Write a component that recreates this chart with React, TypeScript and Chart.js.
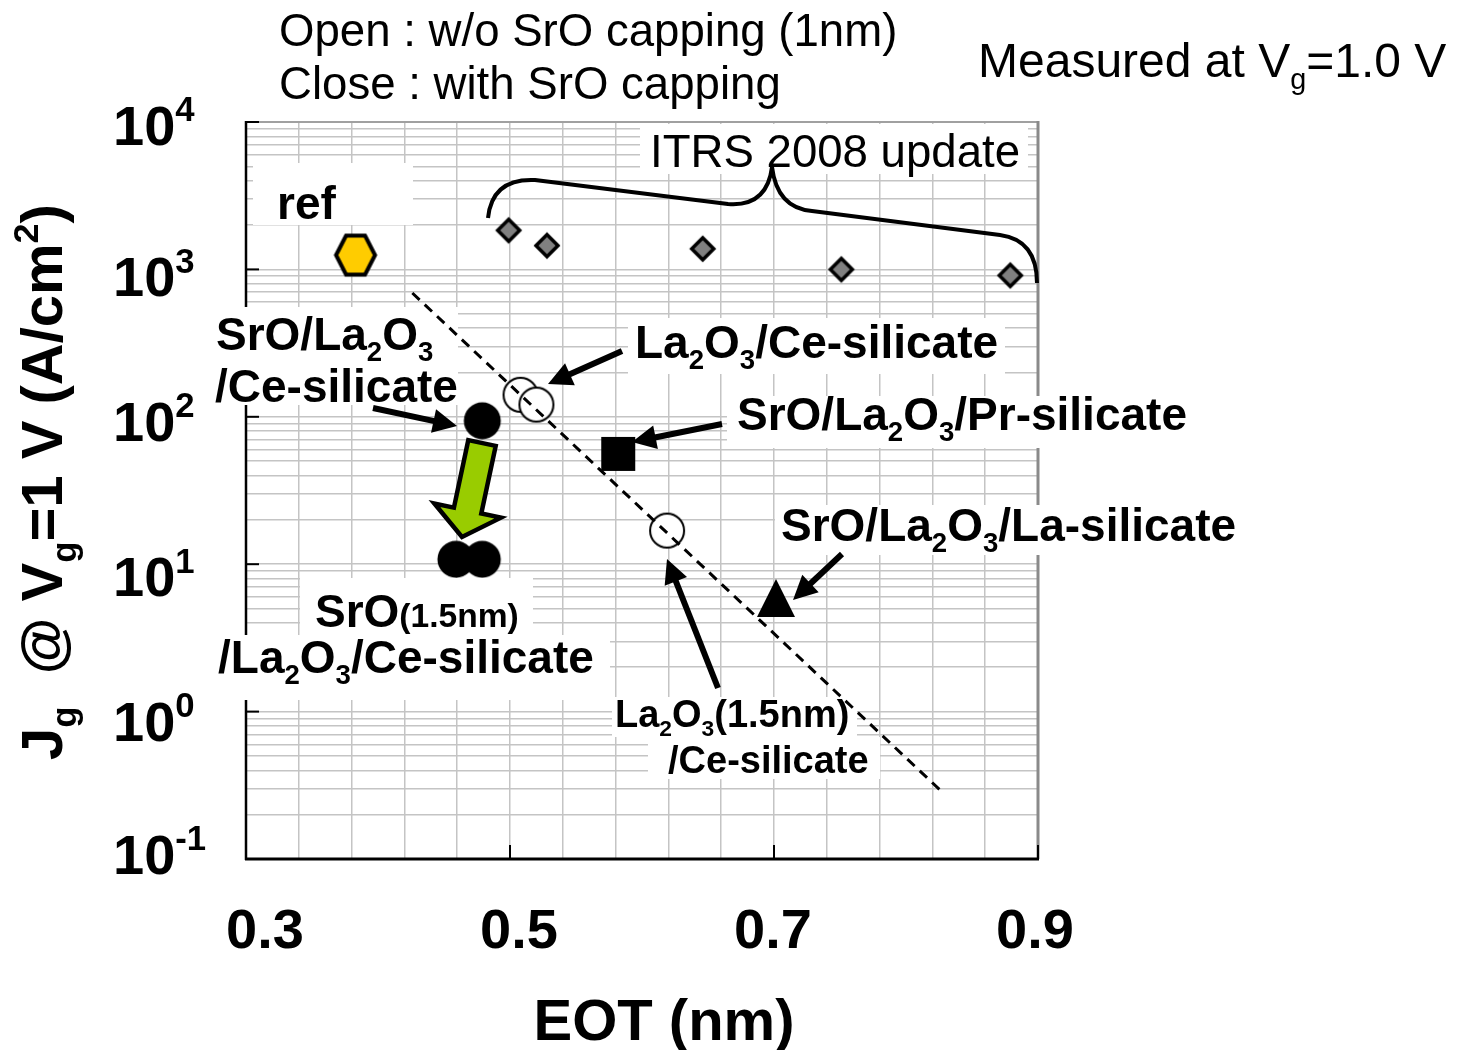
import React, { useEffect, useRef } from 'react';
import { Chart, registerables } from 'chart.js';

Chart.register(...registerables);

const FONT = '"Liberation Sans", Arial, Helvetica, sans-serif';

// Gate leakage current density Jg at Vg = 1 V (A/cm2) versus EOT (nm)
const REF_EOT = [0.383];
const REF_JG = [1250];
const ITRS_EOT = [0.499, 0.528, 0.646, 0.751, 0.879];
const ITRS_JG = [1840, 1450, 1380, 1000, 910];
// open symbols: La2O3/Ce-silicate without SrO capping
const LA2O3_CE_EOT = [0.508, 0.52, 0.619];
const LA2O3_CE_JG = [141, 121, 16.9];
// closed symbols: with SrO capping
const SRO_CE_EOT = [0.479];
const SRO_CE_JG = [94];
const SRO15_CE_EOT = [0.459, 0.479];
const SRO15_CE_JG = [10.8, 10.8];
const SRO_PR_EOT = [0.582];
const SRO_PR_JG = [56];
const SRO_LA_EOT = [0.7015];
const SRO_LA_JG = [5.9];
// guide line through the La2O3/Ce-silicate points
const TREND_EOT = [0.426, 0.8265];
const TREND_JG = [692, 0.29];

const X_TICK_VALUES = [0.3, 0.5, 0.7, 0.9];
const X_TICK_LABELS = ['0.3', '0.5', '0.7', '0.9'];
const Y_TICK_EXPONENTS = [4, 3, 2, 1, 0, -1];

// small hand nudges of the tick labels (px)
const X_LABEL_SHIFT = [19, 9, -1, -3];
const Y_LABEL_SHIFT = [3, 7, 4, 12, 9, -5];

type Label = { text: string; x: number; y: number; size: number; bold: boolean };
const LABELS: Label[] = [
  { text: 'Open : w/o SrO capping (1nm)', x: 279, y: 46, size: 45.6, bold: false },
  { text: 'Close : with SrO capping', x: 279, y: 99, size: 45.6, bold: false },
  { text: 'Measured at V_{g}=1.0 V', x: 978, y: 77, size: 48, bold: false },
  { text: 'ITRS 2008 update', x: 650, y: 167, size: 45.6, bold: false },
  { text: 'ref', x: 277, y: 219, size: 46, bold: true },
  { text: 'SrO/La_{2}O_{3}', x: 216, y: 350, size: 46, bold: true },
  { text: '/Ce-silicate', x: 215, y: 402, size: 46, bold: true },
  { text: 'La_{2}O_{3}/Ce-silicate', x: 635, y: 358, size: 46, bold: true },
  { text: 'SrO/La_{2}O_{3}/Pr-silicate', x: 737, y: 430, size: 46, bold: true },
  { text: 'SrO/La_{2}O_{3}/La-silicate', x: 781, y: 541, size: 46, bold: true },
  { text: 'SrO~{(1.5nm)}', x: 315, y: 627, size: 46, bold: true },
  { text: '/La_{2}O_{3}/Ce-silicate', x: 218, y: 673, size: 46, bold: true },
  { text: 'La_{2}O_{3}(1.5nm)', x: 615, y: 727, size: 38, bold: true },
  { text: '/Ce-silicate', x: 668, y: 773, size: 38, bold: true },
];

// white text-box backgrounds [x, y, w, h]
const BOXES_UNDER: number[][] = [
  [253, 163, 160, 62],
  [208, 307, 250, 98],
  [640, 124, 388, 50],
  [628, 318, 377, 56],
  [727, 396, 465, 52],
  [775, 505, 465, 50],
  [612, 697, 245, 40],
  [648, 737, 232, 42],
];
const BOXES_OVER: number[][] = [
  [300, 578, 233, 57],
  [210, 635, 400, 65],
];

// callout arrows [x1, y1, x2 (tip), y2 (tip)]
const ARROWS: number[][] = [
  [622, 351, 548, 384],
  [373, 408, 457, 426],
  [722, 424, 632, 442],
  [842, 554, 793, 600],
  [718, 688, 667, 559],
];

type Seg = { t: string; k: 'n' | 'sub' | 'sup' | 'small' };
const SEG_SCALE = { n: 1, sub: 0.6, sup: 0.62, small: 0.73 };
const SEG_SHIFT = { n: 0, sub: 0.24, sup: -0.42, small: 0 };

function parseRich(s: string): Seg[] {
  const out: Seg[] = [];
  const re = /([_^~])\{([^}]*)\}/g;
  let last = 0;
  let m: RegExpExecArray | null;
  while ((m = re.exec(s))) {
    if (m.index > last) out.push({ t: s.slice(last, m.index), k: 'n' });
    out.push({ t: m[2], k: m[1] === '_' ? 'sub' : m[1] === '^' ? 'sup' : 'small' });
    last = re.lastIndex;
  }
  if (last < s.length) out.push({ t: s.slice(last), k: 'n' });
  return out;
}

function fontOf(size: number, bold: boolean) {
  return `${bold ? 'bold ' : ''}${size}px ${FONT}`;
}

function drawRich(
  ctx: CanvasRenderingContext2D,
  s: string,
  x: number,
  y: number,
  size: number,
  bold: boolean,
  align: 'left' | 'center' = 'left'
) {
  const segs = parseRich(s);
  let total = 0;
  const widths = segs.map((g) => {
    ctx.font = fontOf(size * SEG_SCALE[g.k], bold);
    const w = ctx.measureText(g.t).width;
    total += w;
    return w;
  });
  let cx = align === 'center' ? x - total / 2 : x;
  ctx.textAlign = 'left';
  ctx.textBaseline = 'alphabetic';
  segs.forEach((g, i) => {
    ctx.font = fontOf(size * SEG_SCALE[g.k], bold);
    ctx.fillText(g.t, cx, y + SEG_SHIFT[g.k] * size);
    cx += widths[i];
  });
}

function arrow(ctx: CanvasRenderingContext2D, x1: number, y1: number, x2: number, y2: number) {
  const headLen = 24;
  const headHalf = 12;
  const a = Math.atan2(y2 - y1, x2 - x1);
  const c = Math.cos(a);
  const s = Math.sin(a);
  const bx = x2 - headLen * c;
  const by = y2 - headLen * s;
  ctx.strokeStyle = '#000';
  ctx.fillStyle = '#000';
  ctx.lineWidth = 6;
  ctx.lineCap = 'butt';
  ctx.beginPath();
  ctx.moveTo(x1, y1);
  ctx.lineTo(bx + 2 * c, by + 2 * s);
  ctx.stroke();
  ctx.beginPath();
  ctx.moveTo(x2, y2);
  ctx.lineTo(bx - headHalf * s, by + headHalf * c);
  ctx.lineTo(bx + headHalf * s, by - headHalf * c);
  ctx.closePath();
  ctx.fill();
}

function blockArrow(ctx: CanvasRenderingContext2D, tx: number, ty: number, px: number, py: number) {
  const len = Math.hypot(px - tx, py - ty);
  const dx = (px - tx) / len;
  const dy = (py - ty) / len;
  const nx = -dy;
  const ny = dx;
  const bodyHalf = 14;
  const headHalf = 34;
  const headLen = 27;
  const bx = px - dx * headLen;
  const by = py - dy * headLen;
  ctx.beginPath();
  ctx.moveTo(tx + nx * bodyHalf, ty + ny * bodyHalf);
  ctx.lineTo(bx + nx * bodyHalf, by + ny * bodyHalf);
  ctx.lineTo(bx + nx * headHalf, by + ny * headHalf);
  ctx.lineTo(px, py);
  ctx.lineTo(bx - nx * headHalf, by - ny * headHalf);
  ctx.lineTo(bx - nx * bodyHalf, by - ny * bodyHalf);
  ctx.lineTo(tx - nx * bodyHalf, ty - ny * bodyHalf);
  ctx.closePath();
  ctx.fillStyle = '#99cc00';
  ctx.fill();
  ctx.lineWidth = 4.5;
  ctx.lineJoin = 'miter';
  ctx.strokeStyle = '#000';
  ctx.stroke();
}

function makeMarker(w: number, h: number, draw: (g: CanvasRenderingContext2D, cx: number, cy: number) => void) {
  const c = document.createElement('canvas');
  c.width = w;
  c.height = h;
  const g = c.getContext('2d') as CanvasRenderingContext2D;
  draw(g, w / 2, h / 2);
  return c;
}

const pts = (xs: number[], ys: number[]) => xs.map((x, i) => ({ x, y: ys[i] }));

const decor = {
  id: 'decor',
  beforeDatasetsDraw(chart: any) {
    const { ctx, chartArea: a } = chart;
    const xs = chart.scales.x;
    const ys = chart.scales.y;
    ctx.save();
    // frame
    ctx.lineCap = 'butt';
    ctx.strokeStyle = '#a0a0a0';
    ctx.lineWidth = 2;
    ctx.beginPath();
    ctx.moveTo(a.left, a.top);
    ctx.lineTo(a.right, a.top);
    ctx.stroke();
    ctx.strokeStyle = '#8a8a8a';
    ctx.lineWidth = 3;
    ctx.beginPath();
    ctx.moveTo(a.right, a.top - 1);
    ctx.lineTo(a.right, a.bottom);
    ctx.stroke();
    ctx.strokeStyle = '#000';
    ctx.lineWidth = 2.5;
    ctx.beginPath();
    ctx.moveTo(a.left, a.top - 1);
    ctx.lineTo(a.left, a.bottom + 1);
    ctx.stroke();
    ctx.lineWidth = 3;
    ctx.beginPath();
    ctx.moveTo(a.left - 1, a.bottom);
    ctx.lineTo(a.right + 1, a.bottom);
    ctx.stroke();
    // inner tick marks
    ctx.lineWidth = 2;
    Y_TICK_EXPONENTS.forEach((e) => {
      const y = ys.getPixelForValue(Math.pow(10, e));
      ctx.beginPath();
      ctx.moveTo(a.left, y);
      ctx.lineTo(a.left + 13, y);
      ctx.stroke();
    });
    X_TICK_VALUES.forEach((v) => {
      const x = xs.getPixelForValue(v);
      ctx.beginPath();
      ctx.moveTo(x, a.bottom);
      ctx.lineTo(x, a.bottom - 14);
      ctx.stroke();
    });
    ctx.fillStyle = '#fff';
    BOXES_UNDER.forEach(([x, y, w, h]) => ctx.fillRect(x, y, w, h));
    ctx.restore();
  },
  afterDatasetsDraw(chart: any) {
    const { ctx, chartArea: a } = chart;
    const xs = chart.scales.x;
    const ys = chart.scales.y;
    ctx.save();
    ctx.fillStyle = '#fff';
    BOXES_OVER.forEach(([x, y, w, h]) => ctx.fillRect(x, y, w, h));

    ctx.fillStyle = '#000';
    LABELS.forEach((l) => drawRich(ctx, l.text, l.x, l.y, l.size, l.bold));

    // curly brace over the ITRS targets
    ctx.strokeStyle = '#000';
    ctx.lineWidth = 4;
    ctx.lineJoin = 'round';
    ctx.lineCap = 'butt';
    ctx.beginPath();
    ctx.moveTo(488, 218);
    ctx.quadraticCurveTo(492, 178, 535, 180);
    ctx.lineTo(728, 204);
    ctx.quadraticCurveTo(767, 207, 772, 167);
    ctx.quadraticCurveTo(777, 208, 812, 211);
    ctx.lineTo(1000, 235);
    ctx.quadraticCurveTo(1037, 240, 1037, 283);
    ctx.stroke();

    ARROWS.forEach(([x1, y1, x2, y2]) => arrow(ctx, x1, y1, x2, y2));
    blockArrow(ctx, 482, 443, 462, 537);

    // tick labels
    ctx.fillStyle = '#000';
    X_TICK_VALUES.forEach((v, i) => {
      drawRich(ctx, X_TICK_LABELS[i], xs.getPixelForValue(v) + X_LABEL_SHIFT[i], 948, 56, true, 'center');
    });
    Y_TICK_EXPONENTS.forEach((e, i) => {
      const y = ys.getPixelForValue(Math.pow(10, e));
      drawRich(ctx, `10^{${e}}`, 113, y + Y_LABEL_SHIFT[i] + 20, 56, true);
    });

    // axis titles
    drawRich(ctx, 'EOT (nm)', (a.left + a.right) / 2 + 22, 1040, 58, true, 'center');
    ctx.save();
    ctx.translate(62, 482);
    ctx.rotate(-Math.PI / 2);
    drawRich(ctx, 'J_{g}  @ V_{g}=1 V (A/cm^{2})', 0, 0, 58, true, 'center');
    ctx.restore();
    ctx.restore();
  },
};

export default function App() {
  const canvasRef = useRef<HTMLCanvasElement>(null);

  useEffect(() => {
    const canvas = canvasRef.current;
    if (!canvas) return;

    const hexagon = makeMarker(48, 48, (g, cx, cy) => {
      g.beginPath();
      g.moveTo(cx - 19.5, cy);
      g.lineTo(cx - 9.5, cy - 19.5);
      g.lineTo(cx + 9.5, cy - 19.5);
      g.lineTo(cx + 19.5, cy);
      g.lineTo(cx + 9.5, cy + 19.5);
      g.lineTo(cx - 9.5, cy + 19.5);
      g.closePath();
      g.fillStyle = '#ffcc00';
      g.fill();
      g.lineWidth = 4;
      g.strokeStyle = '#000';
      g.stroke();
    });
    const diamond = makeMarker(32, 32, (g, cx, cy) => {
      g.beginPath();
      g.moveTo(cx, cy - 11);
      g.lineTo(cx + 11, cy);
      g.lineTo(cx, cy + 11);
      g.lineTo(cx - 11, cy);
      g.closePath();
      g.fillStyle = '#808080';
      g.fill();
      g.lineWidth = 3.5;
      g.strokeStyle = '#000';
      g.stroke();
    });
    const openCircle = makeMarker(40, 40, (g, cx, cy) => {
      g.beginPath();
      g.arc(cx, cy, 17, 0, Math.PI * 2);
      g.fillStyle = '#fff';
      g.fill();
      g.lineWidth = 2;
      g.strokeStyle = '#000';
      g.stroke();
    });
    const dot = makeMarker(40, 40, (g, cx, cy) => {
      g.beginPath();
      g.arc(cx, cy, 18.5, 0, Math.PI * 2);
      g.fillStyle = '#000';
      g.fill();
    });
    const square = makeMarker(36, 36, (g, cx, cy) => {
      g.fillStyle = '#000';
      g.fillRect(cx - 17, cy - 17, 34, 34);
    });
    const triangle = makeMarker(40, 40, (g, cx, cy) => {
      g.beginPath();
      g.moveTo(cx, cy - 19);
      g.lineTo(cx + 19, cy + 19);
      g.lineTo(cx - 19, cy + 19);
      g.closePath();
      g.fillStyle = '#000';
      g.fill();
    });

    const yTicks: { value: number }[] = [];
    for (let e = -1; e < 4; e++) {
      for (let m = 1; m < 10; m++) yTicks.push({ value: m * Math.pow(10, e) });
    }
    yTicks.push({ value: 10000 });
    const xTicks: { value: number }[] = [];
    for (let i = 0; i <= 15; i++) xTicks.push({ value: 0.3 + i * 0.04 });

    const gridCommon = { color: '#c4c4c4', lineWidth: 1.5, drawTicks: false };

    const chart = new Chart(canvas, {
      type: 'scatter',
      data: {
        datasets: [
          {
            data: pts(TREND_EOT, TREND_JG),
            showLine: true,
            borderColor: '#000',
            borderWidth: 3,
            borderDash: [10, 7],
            pointRadius: 0,
            fill: false,
          },
          { data: pts(REF_EOT, REF_JG), pointStyle: hexagon, pointRadius: 20 },
          { data: pts(ITRS_EOT, ITRS_JG), pointStyle: diamond, pointRadius: 13 },
          { data: pts(LA2O3_CE_EOT, LA2O3_CE_JG), pointStyle: openCircle, pointRadius: 17 },
          { data: pts(SRO_CE_EOT, SRO_CE_JG), pointStyle: dot, pointRadius: 18 },
          { data: pts(SRO15_CE_EOT, SRO15_CE_JG), pointStyle: dot, pointRadius: 18 },
          { data: pts(SRO_PR_EOT, SRO_PR_JG), pointStyle: square, pointRadius: 17 },
          { data: pts(SRO_LA_EOT, SRO_LA_JG), pointStyle: triangle, pointRadius: 19 },
        ] as any,
      },
      options: {
        animation: false,
        responsive: false,
        devicePixelRatio: 1,
        layout: { padding: { left: 246, top: 122, right: 420, bottom: 191 } },
        plugins: { legend: { display: false }, tooltip: { enabled: false } },
        scales: {
          x: {
            type: 'linear',
            min: 0.3,
            max: 0.9,
            ticks: { display: false },
            afterBuildTicks: (s: any) => {
              s.ticks = xTicks;
            },
            grid: gridCommon,
            border: { display: false },
          },
          y: {
            type: 'logarithmic',
            min: 0.1,
            max: 10000,
            ticks: { display: false },
            afterBuildTicks: (s: any) => {
              s.ticks = yTicks;
            },
            grid: gridCommon,
            border: { display: false },
          },
        },
      } as any,
      plugins: [decor],
    });

    return () => chart.destroy();
  }, []);

  return (
    <div style={{ position: 'fixed', left: 0, top: 0, width: 1458, height: 1050, background: '#fff' }}>
      <canvas ref={canvasRef} width={1458} height={1050} style={{ display: 'block', width: 1458, height: 1050 }} />
    </div>
  );
}
